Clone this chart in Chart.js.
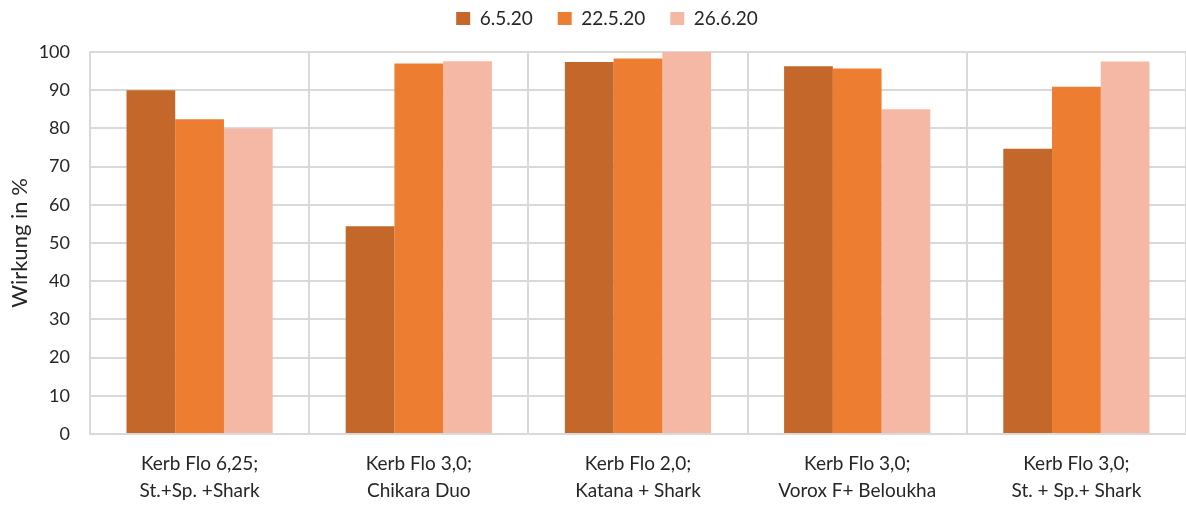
<!DOCTYPE html>
<html>
<head>
<meta charset="utf-8">
<script src="https://cdn.jsdelivr.net/npm/chart.js@4/dist/chart.umd.min.js"></script>
<style>
html,body{margin:0;padding:0;background:#fff;}
#wrap{width:1186px;height:506px;position:relative;}
</style>
</head>
<body>
<div id="wrap"><canvas id="c"></canvas></div>
<script>
const categories = [
  ["Kerb Flo 6,25;", "St.+Sp. +Shark"],
  ["Kerb Flo 3,0;", "Chikara Duo"],
  ["Kerb Flo 2,0;", "Katana + Shark"],
  ["Kerb Flo 3,0;", "Vorox F+ Beloukha"],
  ["Kerb Flo 3,0;", "St. + Sp.+ Shark"]
];
const seriesNames = ["6.5.20", "22.5.20", "26.6.20"];
const s1 = [90, 54.4, 97.4, 96.3, 74.7];
const s2 = [82.4, 97.0, 98.3, 95.7, 90.9];
const s3 = [80.0, 97.6, 100, 85.0, 97.5];
const yTicks = [0, 10, 20, 30, 40, 50, 60, 70, 80, 90, 100];
const axisTitle = "Wirkung in %";

const colors = ["#C4672A", "#ED7D31", "#F4B8A5"];
const FONT = "Lato, 'Open Sans', sans-serif";
const TXT = "#262626";

const legendSpacer = {
  id: 'legendSpacer',
  beforeLayout(chart) {
    const lg = chart.legend;
    if (lg && !lg._patched) {
      const origFit = lg.fit;
      lg.fit = function () { origFit.call(this); this.height += 14; };
      const origDraw = lg.draw;
      lg.draw = function () {
        const ctx = this.ctx;
        ctx.save();
        ctx.translate(14, 0);
        origDraw.call(this);
        ctx.restore();
      };
      lg._patched = true;
    }
  }
};

new Chart(document.getElementById('c'), {
  type: 'bar',
  plugins: [legendSpacer],
  data: {
    labels: categories,
    datasets: [s1, s2, s3].map((d, i) => ({
      label: seriesNames[i],
      data: d,
      backgroundColor: colors[i],
      borderWidth: 0,
      categoryPercentage: 0.667,
      barPercentage: 1.0
    }))
  },
  options: {
    responsive: true,
    maintainAspectRatio: false,
    animation: false,
    layout: { padding: { left: 0, right: 0, top: -16, bottom: 0 } },
    plugins: {
      tooltip: { enabled: false },
      legend: {
        position: 'top',
        labels: {
          boxWidth: 14, boxHeight: 13,
          padding: 25,
          color: TXT,
          font: { family: FONT, size: 19 }
        }
      }
    },
    scales: {
      x: {
        afterFit: (s) => { s.height = 72; },
        grid: { offset: true, color: "#D9D9D9", lineWidth: 2, drawTicks: false },
        border: { color: "#D9D9D9", width: 2 },
        ticks: { color: TXT, font: { family: FONT, size: 19, lineHeight: 1.42 }, padding: 16, maxRotation: 0, autoSkip: false }
      },
      y: {
        min: 0, max: 100,
        afterFit: (s) => { s.width = 90; },
        afterBuildTicks: (ax) => { ax.ticks = yTicks.map(v => ({ value: v })); },
        grid: { color: "#D9D9D9", lineWidth: 2, drawTicks: false },
        border: { color: "#D9D9D9", width: 2 },
        ticks: { color: TXT, font: { family: FONT, size: 18 }, padding: 20 },
        title: { display: true, text: axisTitle, color: TXT, font: { family: FONT, size: 22 }, padding: { top: 7, bottom: 3 } }
      }
    }
  }
});
</script>
</body>
</html>
